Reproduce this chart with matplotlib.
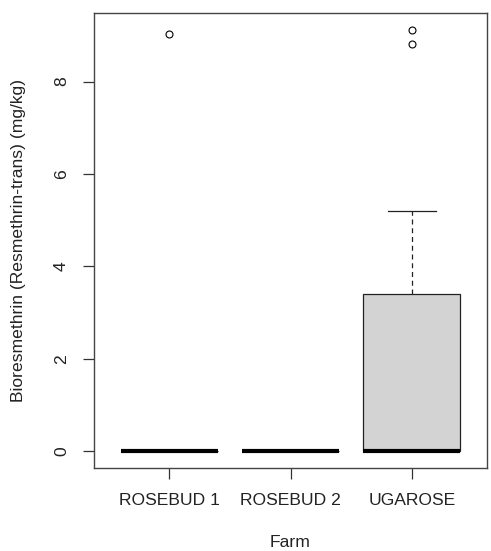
import matplotlib
matplotlib.use("Agg")
import matplotlib.pyplot as plt

plt.rcParams['font.family'] = ['Liberation Sans', 'DejaVu Sans']

farms = ["ROSEBUD 1", "ROSEBUD 2", "UGAROSE"]
q1 = [0.0, 0.0, 0.0]
medians = [0.0, 0.0, 0.01]
q3 = [0.0, 0.0, 3.4]
whis_lo = [0.0, 0.0, 0.0]
whis_hi = [0.0, 0.0, 5.2]
outliers = [[9.03], [], [9.11, 8.81]]

stats = []
for i in range(len(farms)):
    stats.append({"label": farms[i], "q1": q1[i], "med": medians[i], "q3": q3[i],
                  "whislo": whis_lo[i], "whishi": whis_hi[i], "fliers": outliers[i]})

fig = plt.figure(figsize=(4.91, 5.51), dpi=100)
ax = fig.add_axes([94/491, 1-468/551, (487-94)/491, (468-13)/551])

ax.bxp(stats, positions=[1, 2, 3], widths=0.8, capwidths=0.4, patch_artist=True,
       boxprops=dict(facecolor="#D3D3D3", edgecolor="#222222", linewidth=0.9),
       medianprops=dict(color="black", linewidth=3, solid_capstyle="butt"),
       whiskerprops=dict(color="#222222", linewidth=0.9, linestyle=(0, (4, 3))),
       capprops=dict(color="#222222", linewidth=0.9),
       flierprops=dict(marker="o", markerfacecolor="none", markeredgecolor="black",
                       markersize=5, markeredgewidth=0.8))

ax.set_xlim(0.38, 3.62)
ax.set_ylim(-0.365, 9.485)
ax.set_yticks([0, 2, 4, 6, 8])
ax.set_yticklabels(["0", "2", "4", "6", "8"], rotation=90, va="center")
ax.tick_params(axis="both", labelsize=12.6, length=8, width=0.9, color="#333333",
               labelcolor="#222222", pad=10)
for s in ax.spines.values():
    s.set_color("#444444")
    s.set_linewidth(1.0)

fig.text(18.5/491, 1-240.5/551, "Bioresmethrin (Resmethrin-trans) (mg/kg)", rotation=90,
         ha="center", va="center", fontsize=12.6, color="#222222")
fig.text(290.5/491, 4/551, "Farm", ha="center", va="baseline", fontsize=12.6, color="#222222")

fig.savefig("out.png", dpi=100)
